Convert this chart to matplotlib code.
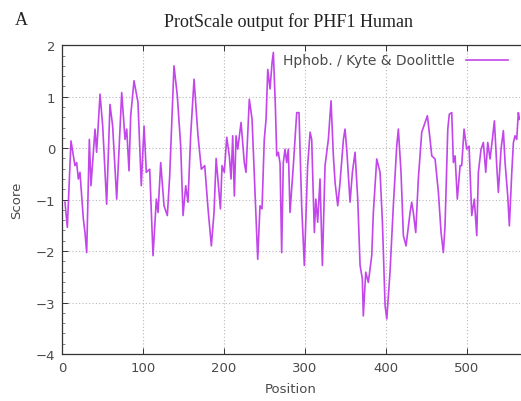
import matplotlib
matplotlib.use("Agg")
import matplotlib.pyplot as plt
from matplotlib.ticker import MultipleLocator

# Kyte & Doolittle hydrophobicity profile of PHF1 (human)
position = [3.7, 6.6, 11.1, 14, 16, 18.1, 20.2, 22.2, 26.4, 28.4, 30.5, 33.8, 35.8,
            40.8, 42.8, 47, 50.3, 55.2, 59.3, 62.6, 67.6, 73.8, 77.9, 80, 82.8, 84.9,
            89, 93.9, 98, 101.4, 104.2, 108.4, 112.5, 116.6, 118.7, 122, 126.1, 130.2,
            133.1, 138.4, 142.5, 146.7, 149.6, 152.9, 155.7, 159, 163.2, 168.1, 172.2,
            176.4, 180.5, 184.6, 187.9, 190.5, 194.4, 195.8, 197.8, 200.6, 203.6,
            206.8, 208.9, 211, 213, 215.1, 217.2, 221.3, 225.3, 227.4, 231.5, 234.9,
            237.7, 241.9, 244.7, 247.2, 250, 252.2, 254.3, 257.1, 259.6, 261.2, 263.7,
            265.4, 267.4, 269.5, 271.5, 273.5, 275.6, 277.7, 279.7, 281.8, 285.9,
            288.8, 290.1, 292.9, 296.2, 299.5, 303.6, 306.6, 308.6, 311.9, 313.7, 316,
            318.9, 321.8, 325.1, 329.2, 332.5, 335.4, 337.5, 340.8, 343.6, 347.8,
            349.8, 351.9, 356, 358.9, 362.2, 365.5, 368.4, 371.2, 372.4, 375.4, 378.6,
            382.8, 384.8, 389, 393.1, 396, 399.3, 401.4, 405.4, 409.5, 413.7, 415.7,
            419, 421.9, 425.2, 430.2, 432.2, 434.2, 437.2, 440.4, 444.6, 448.7, 451.6,
            454.9, 457, 461.1, 465.2, 468.5, 471.3, 473.4, 476.8, 478.7, 481.7, 483.7,
            485.8, 488.6, 492, 494, 496.9, 500.2, 503.1, 506.4, 509.6, 512.6, 514.6,
            517.9, 520.8, 523.7, 526.2, 529, 531.9, 534.4, 537.3, 539.3, 542.6, 545.5,
            547.6, 550.9, 552.9, 555.9, 557.9, 559.9, 562, 564, 565.5]
score = [-1.05, -1.54, 0.14, -0.15, -0.34, -0.28, -0.6, -0.47, -1.38, -1.64, -2.03, 0.17,
         -0.73, 0.37, -0.08, 1.05, 0.43, -1.09, 0.85, 0.43, -0.99, 1.08, 0.17, 0.37,
         -0.44, 0.63, 1.31, 0.89, -0.73, 0.43, -0.47, -0.41, -2.09, -0.99, -1.25, -0.28,
         -1.12, -1.31, -0.54, 1.6, 1.02, 0.04, -1.31, -0.73, -1.05, 0.24, 1.34, 0.24,
         -0.41, -0.34, -1.18, -1.9, -1.25, -0.2, -0.93, -1.18, -0.34, -0.47, 0.21,
         -0.15, -0.6, 0.24, -0.93, 0.24, -0.02, 0.5, -0.28, -0.47, 0.95, 0.56,
         -0.54, -2.16, -1.12, -1.18, 0.17, 0.56, 1.53, 1.15, 1.66, 1.86, 0.82,
         -0.15, -0.08, -0.3, -2.03, -0.28, -0.02, -0.28, -0.02, -1.25, -0.34,
         0.37, 0.69, 0.69, -1.12, -2.28, -0.34, 0.31, 0.17, -1.64, -0.99, -1.44,
         -0.6, -2.28, -0.34, 0.17, 0.92, -0.15, -0.67, -1.12, -0.67, 0.17,
         0.37, -0.02, -1.05, -0.47, -0.08, -0.99, -2.28, -2.54, -3.26, -2.41, -2.61,
         -2.09, -1.25, -0.21, -0.47, -1.44, -3.06, -3.32, -2.41, -1.12, 0.04, 0.37,
         -0.47, -1.7, -1.9, -1.25, -1.05, -1.25, -1.64, -0.6, 0.31, 0.5, 0.63,
         0.17, -0.15, -0.21, -0.86, -1.64, -2.03, -1.51, 0.37, 0.66, 0.69, -0.28,
         -0.15, -0.99, -0.34, -0.34, 0.37, -0.02, 0.04, -1.31, -0.99, -1.7, -0.47,
         -0.02, 0.11, -0.47, 0.11, -0.21, 0.17, 0.53, -0.34, -0.86, -0.02, 0.34,
         -0.28, -0.93, -1.51, -0.47, 0.11, 0.24, 0.17, 0.69, 0.56]

x_ticks = [0, 100, 200, 300, 400, 500]
y_ticks = [2, 1, 0, -1, -2, -3, -4]
series_label = "Hphob. / Kyte & Doolittle"
line_color = "#c246ea"
text_color = "#4a4a4a"

fig = plt.figure(figsize=(5.21, 4.02), dpi=100)
ax = fig.add_axes([0.119, 0.117, 0.879, 0.768])

ax.plot(position, score, color=line_color, lw=1.2, label=series_label)

ax.set_xlim(0, 566)
ax.set_ylim(-4, 2)
ax.set_xticks(x_ticks)
ax.set_yticks(y_ticks)
ax.yaxis.set_minor_locator(MultipleLocator(0.2))
ax.grid(True, which="major", color="#b8b8b8", linestyle=(0, (1, 2)), lw=0.8)
ax.tick_params(which="major", direction="in", length=4, width=0.7,
               labelsize=9.5, labelcolor=text_color, color="#333333", pad=5,
               top=True, right=False)
ax.tick_params(which="minor", direction="in", length=2, width=0.5,
               color="#555555", left=True)
ax.tick_params(axis="x", which="minor", bottom=False)
for side in ["left", "bottom", "top"]:
    ax.spines[side].set_color("#333333")
    ax.spines[side].set_linewidth(0.9)
ax.spines["right"].set_visible(False)

ax.set_xlabel("Position", fontsize=9.5, color=text_color, labelpad=6)
ax.set_ylabel("Score", fontsize=9.5, color=text_color, labelpad=9)

leg = ax.legend(loc="upper right", bbox_to_anchor=(0.995, 1.005), frameon=False,
                fontsize=10, markerfirst=False, handlelength=3.0,
                handletextpad=0.8, borderaxespad=0.3)
for t in leg.get_texts():
    t.set_color(text_color)

fig.text(0.553, 0.945, "ProtScale output for PHF1 Human", ha="center", va="center",
         fontsize=13, family="Liberation Serif", color="#222222")
fig.text(0.04, 0.95, "A", ha="center", va="center", fontsize=13,
         family="Liberation Serif", color="#222222")

fig.savefig("out.png", dpi=100)
